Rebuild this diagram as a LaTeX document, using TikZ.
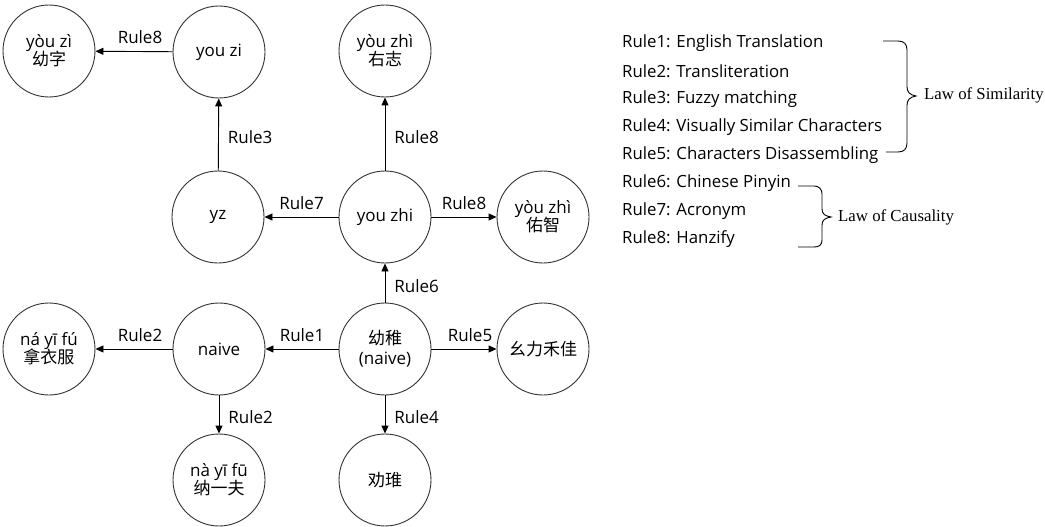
\documentclass[tikz,border=0pt]{standalone}
\usepackage{fontspec}
\setmainfont{Open Sans}
\newfontfamily\cjk{Noto Sans CJK SC}
\newfontfamily\lawfont{Liberation Serif}
\usetikzlibrary{arrows.meta}
\begin{document}
\begin{tikzpicture}[x=1pt,y=-1pt,
  circ/.style={circle,draw=black!80,line width=0.9pt,minimum size=92pt,inner sep=0pt,align=center,
    font=\fontsize{17}{20}\selectfont},
  edge/.style={-{Triangle[length=8pt,width=7pt]},line width=0.9pt},
  lab/.style={font=\fontsize{17}{19}\selectfont,inner sep=1pt},
  leg/.style={anchor=west,font=\fontsize{16.8}{19}\selectfont,inner sep=0pt},
  law/.style={anchor=west,font=\lawfont\fontsize{16.8}{19}\selectfont,inner sep=0pt},
  brace/.style={line width=0.9pt}]
\useasboundingbox (0,0) rectangle (1045,527);
% nodes
\node[circ] (yzhz) at (49,51) {yòu zì\\[-2pt]{\cjk 幼字}};
\node[circ] (youzi) at (219,52) {you zi};
\node[circ] (yzz) at (385,51) {yòu zhì\\[-2pt]{\cjk 右志}};
\node[circ] (yz) at (218,217) {yz};
\node[circ] (youzhi) at (385,217) {you zhi};
\node[circ] (yzhi) at (543,217) {yòu zhì\\[-2pt]{\cjk 佑智}};
\node[circ] (nyf1) at (49,349) {ná yī fú\\[-2pt]{\cjk 拿衣服}};
\node[circ] (naive) at (219,349) {naive};
\node[circ] (yzh) at (385,349) {{\cjk 幼稚}\\(naive)};
\node[circ] (ylhj) at (543,349) {{\cjk 幺力禾佳}};
\node[circ] (nyf2) at (219,480) {nà yī fū\\[-2pt]{\cjk 纳一夫}};
\node[circ] (qw) at (385,480) {{\cjk 劝琟}};
% edges
\draw[edge] (youzi) -- node[lab,above=6pt,xshift=6pt] {Rule8} (yzhz);
\draw[edge] (yz) -- node[lab,right=8pt,yshift=-3pt] {Rule3} (youzi);
\draw[edge] (youzhi) -- node[lab,above=6pt] {Rule7} (yz);
\draw[edge] (youzhi) -- node[lab,right=8pt,yshift=-3pt] {Rule8} (yzz);
\draw[edge] (youzhi) -- node[lab,above=6pt] {Rule8} (yzhi);
\draw[edge] (yzh) -- node[lab,right=8pt,yshift=-3pt] {Rule6} (youzhi);
\draw[edge] (yzh) -- node[lab,above=6pt] {Rule1} (naive);
\draw[edge] (naive) -- node[lab,above=6pt,xshift=6pt] {Rule2} (nyf1);
\draw[edge] (naive) -- node[lab,right=8pt,yshift=-3pt] {Rule2} (nyf2);
\draw[edge] (yzh) -- node[lab,above=6pt,xshift=6pt] {Rule5} (ylhj);
\draw[edge] (yzh) -- node[lab,right=8pt,yshift=-3pt] {Rule4} (qw);
% legend
\node[leg] (r1) at (622,43) {Rule1: English Translation};
\node[leg] (r2) at (622,71) {Rule2: Transliteration};
\node[leg] (r3) at (622,99) {Rule3: Fuzzy matching};
\node[leg] (r4) at (622,127) {Rule4: Visually Similar Characters};
\node[leg] (r5) at (622,155) {Rule5: Characters Disassembling};
\node[leg] (r6) at (622,183) {Rule6: Chinese Pinyin};
\node[leg] (r7) at (622,211) {Rule7: Acronym};
\node[leg] (r8) at (622,239) {Rule8: Hanzify};
% braces
\draw[brace] (883,41) -- (898,41) .. controls (904,41) and (907,44) .. (907,50) -- (907,87)
  .. controls (907,92) and (910,95) .. (916,96) .. controls (910,97) and (907,100) .. (907,105)
  -- (907,143) .. controls (907,149) and (904,152) .. (898,152) -- (886,152);
\node[law] (sim) at (924,95) {Law of Similarity};
\draw[brace] (798,186) -- (814,186) .. controls (819,186) and (822,189) .. (822,194) -- (822,209)
  .. controls (822,214) and (825,216) .. (831,217) .. controls (825,218) and (822,220) .. (822,225)
  -- (822,240) .. controls (822,245) and (819,247) .. (814,247) -- (798,247);
\node[law] (cau) at (838,217) {Law of Causality};
\end{tikzpicture}
\end{document}
